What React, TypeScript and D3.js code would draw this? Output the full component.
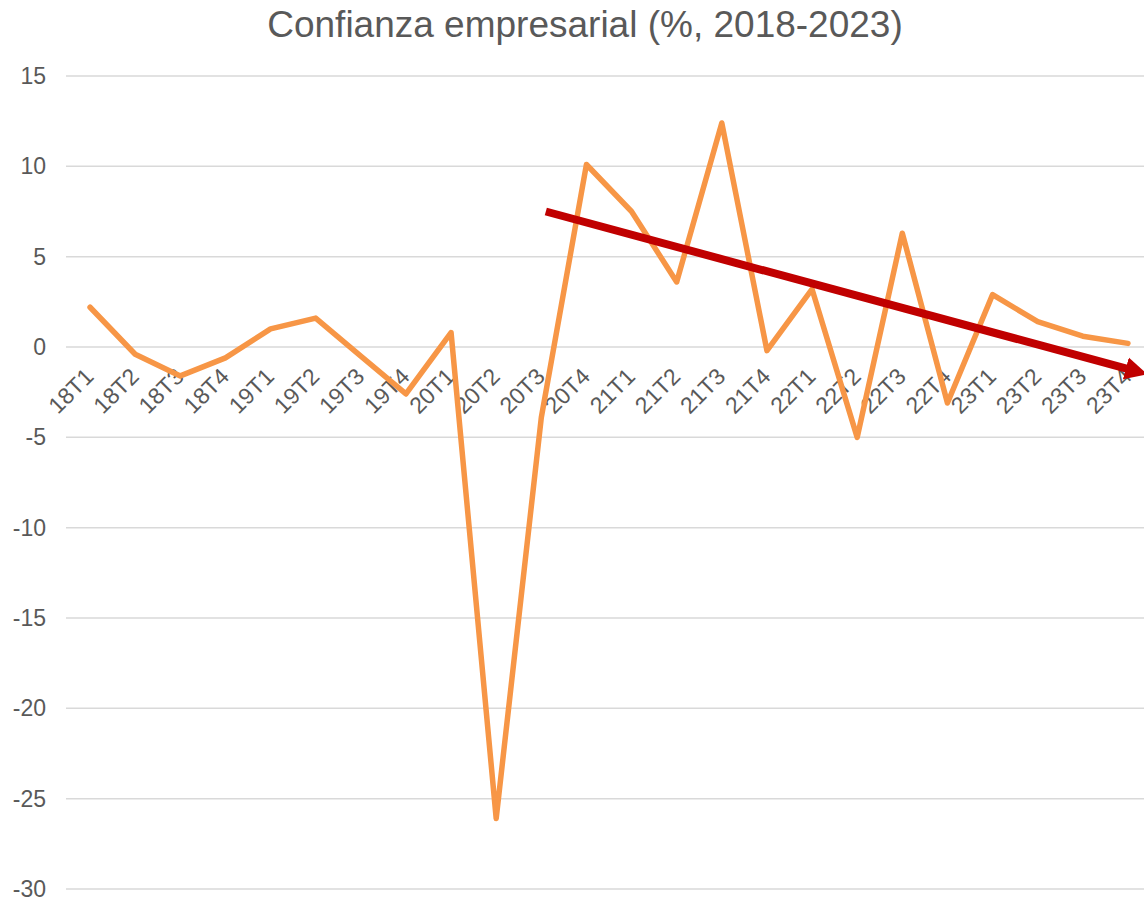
import * as d3 from 'd3';
import React from 'react';

const quarters = [
  '18T1', '18T2', '18T3', '18T4',
  '19T1', '19T2', '19T3', '19T4',
  '20T1', '20T2', '20T3', '20T4',
  '21T1', '21T2', '21T3', '21T4',
  '22T1', '22T2', '22T3', '22T4',
  '23T1', '23T2', '23T3', '23T4',
];
const confianza = [
  2.2, -0.4, -1.6, -0.6,
  1.0, 1.6, -0.5, -2.6,
  0.8, -26.1, -3.9, 10.1,
  7.5, 3.6, 12.4, -0.2,
  3.2, -5.0, 6.3, -3.1,
  2.9, 1.4, 0.6, 0.2,
];
const yTicks = [15, 10, 5, 0, -5, -10, -15, -20, -25, -30];
// trend arrow, position in category index units
const trendFrom = { pos: 10.1, value: 7.5 };
const trendTo = { pos: 23.05, value: -1.25 };

const title = 'Confianza empresarial (%, 2018-2023)';

export default function App() {
  const width = 1144;
  const height = 900;
  const font = '"Liberation Sans", Arial, sans-serif';
  const grey = '#595959';

  const x = d3.scalePoint<string>().domain(quarters).range([67.5, 1150.5]).padding(0.5);
  const xi = d3
    .scaleLinear()
    .domain([0, quarters.length - 1])
    .range([x(quarters[0]) as number, x(quarters[quarters.length - 1]) as number]);
  const y = d3.scaleLinear().domain([-30, 15]).range([889, 76]);

  const line = d3
    .line<number>()
    .x((_, i) => x(quarters[i]) as number)
    .y(d => y(d));

  return (
    <svg
      width={width}
      height={height}
      style={{ position: 'absolute', left: 0, top: 0, background: '#fff' }}
      fontFamily={font}
    >
      <defs>
        <marker
          id="arrow"
          viewBox="0 0 10 10"
          refX="2"
          refY="5"
          markerWidth="2.8"
          markerHeight="3.2"
          orient="auto"
        >
          <path d="M0,0 L10,5 L0,10 Z" fill="#C00000" />
        </marker>
      </defs>

      <text x={585} y={37} textAnchor="middle" fontSize={37} fill={grey}>
        {title}
      </text>

      {/* grid + y labels */}
      {yTicks.map(t => (
        <g key={t}>
          <line x1={66} x2={width} y1={y(t)} y2={y(t)} stroke="#D9D9D9" strokeWidth={1.5} />
          <text x={46} y={y(t)} dy="0.35em" textAnchor="end" fontSize={23} fill={grey}>
            {t}
          </text>
        </g>
      ))}

      {/* x labels */}
      {quarters.map(q => (
        <text
          key={q}
          transform={`translate(${(x(q) as number) + 5},${y(0) + 31}) rotate(-45)`}
          textAnchor="end"
          fontSize={23}
          fill={grey}
        >
          {q}
        </text>
      ))}

      <path
        d={line(confianza) ?? ''}
        fill="none"
        stroke="#F79646"
        strokeWidth={5.5}
        strokeLinejoin="round"
        strokeLinecap="round"
      />

      <line
        x1={xi(trendFrom.pos)}
        y1={y(trendFrom.value)}
        x2={xi(trendTo.pos)}
        y2={y(trendTo.value)}
        stroke="#C00000"
        strokeWidth={8}
        markerEnd="url(#arrow)"
      />
    </svg>
  );
}
